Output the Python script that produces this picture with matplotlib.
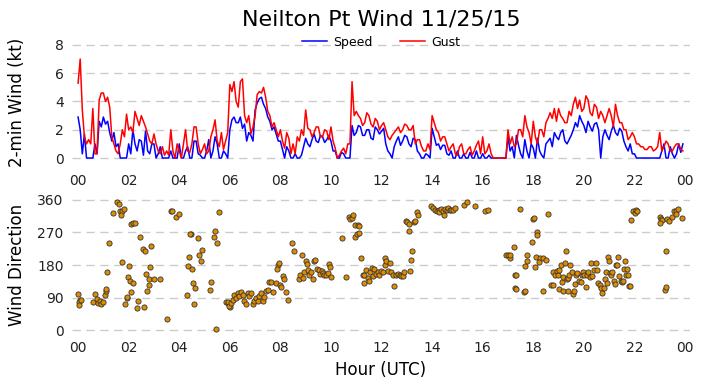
import numpy as np
import matplotlib
matplotlib.use('Agg')
import matplotlib.pyplot as plt

# 5-minute wind speed / gust (kt), 00:00 .. 23:55 UTC, one row per hour
speed = [
    2.9, 2.0, 0.3, 1.7, 0.0, 0.0, 0.0, 0.0, 1.0, 0.3, 2.6, 2.2,
    2.9, 2.4, 2.6, 1.8, 1.2, 1.8, 0.8, 1.0, 0.0, 0.0, 0.0, 0.0,
    1.0, 0.3, 2.0, 1.0, 0.5, 1.3, 1.2, 0.2, 1.9, 0.5, 0.3, 1.0,
    1.0, 0.0, 0.3, 0.8, 0.0, 0.0, 0.0, 0.0, 0.5, 0.0, 0.0, 0.0,
    1.0, 0.0, 0.0, 0.5, 0.8, 0.0, 0.0, 1.2, 1.2, 0.3, 0.2, 0.0,
    0.0, 0.5, 1.3, 0.0, 0.5, 1.5, 1.0, 0.0, 0.0, 0.5, 0.3, 0.0,
    2.0, 2.7, 2.9, 2.5, 2.5, 2.9, 2.1, 2.4, 1.2, 1.8, 1.6, 1.2,
    3.4, 3.9, 4.2, 4.3, 3.8, 3.5, 2.9, 2.6, 2.0, 2.2, 1.7, 1.2,
    1.2, 0.6, 0.0, 0.8, 0.5, 0.0, 0.0, 0.3, 0.0, 0.0, 0.2, 0.8,
    1.4, 1.0, 0.8, 1.3, 1.7, 1.2, 1.1, 1.6, 1.5, 1.1, 1.3, 1.6,
    1.2, 0.5, 0.5, 0.0, 0.0, 0.4, 0.3, 0.0, 0.0, 0.0, 2.3, 1.6,
    1.8, 2.3, 2.2, 1.6, 1.6, 2.0, 2.0, 1.4, 1.3, 2.2, 2.0, 1.7,
    1.9, 2.1, 1.0, 0.5, 0.3, 0.0, 0.8, 1.2, 1.5, 0.9, 1.2, 1.6,
    1.5, 1.0, 0.8, 1.4, 1.3, 0.5, 0.3, 0.0, 0.0, 0.3, 0.2, 0.0,
    2.1, 1.5, 0.9, 1.0, 0.6, 0.9, 0.9, 0.3, 0.2, 0.5, 0.0, 0.0,
    0.5, 0.0, 0.0, 0.3, 0.0, 0.0, 0.4, 0.0, 0.0, 0.5, 0.0, 0.0,
    0.3, 0.0, 0.0, 0.2, 0.0, 0.0, 0.0, 0.0, 0.0, 0.0, 0.0, 0.0,
    1.5, 0.5, 0.8, 0.0, 1.6, 0.9, 0.3, 0.0, 1.3, 0.5, 0.0, 1.0,
    0.7, 0.0, 1.4, 0.5, 0.2, 0.0, 1.0, 1.2, 1.4, 0.8, 1.8, 1.5,
    1.3, 1.8, 2.0, 1.2, 1.0, 1.3, 1.6, 2.0, 2.5, 2.2, 3.0, 2.6,
    2.3, 1.8, 2.6, 2.2, 1.9, 2.4, 2.5, 2.0, 0.0, 1.5, 2.0, 1.6,
    1.3, 1.9, 2.3, 1.8, 1.6, 2.1, 1.9, 1.2, 0.8, 0.5, 1.0, 0.3,
    0.3, 0.0, 0.0, 0.0, 0.0, 0.0, 0.0, 0.0, 0.0, 0.0, 0.0, 0.0,
    0.0, 0.5, 1.0, 0.0, 0.0, 0.8, 0.3, 0.0, 0.3, 1.0, 0.4, 1.0,
]
gust = [
    5.3, 7.0, 3.4, 1.5, 1.0, 1.3, 1.0, 3.5, 0.3, 0.3, 4.1, 4.6,
    4.6, 4.0, 4.3, 3.6, 1.5, 1.0, 0.5, 0.3, 1.0, 2.0, 1.5, 3.1,
    2.0, 2.2, 1.8, 3.3, 2.8, 2.3, 3.0, 2.6, 2.2, 1.7, 1.2, 1.0,
    1.7, 1.0, 0.5, 0.3, 0.8, 0.2, 0.5, 0.2, 2.0, 0.5, 0.0, 1.0,
    0.5, 0.0, 1.0, 2.0, 0.5, 0.4, 1.0, 2.2, 2.2, 1.0, 0.3, 0.6,
    1.0, 0.3, 0.5, 1.5, 2.0, 2.7, 1.2, 0.8, 1.8, 0.6, 1.2, 1.8,
    5.2, 4.7, 5.4, 4.0, 3.6, 5.4, 5.6, 3.0, 2.5, 3.0, 1.7, 2.2,
    3.0, 4.5, 4.7, 4.6, 5.0, 4.3, 3.3, 3.0, 2.2, 2.5, 2.0, 1.5,
    2.0, 1.2, 0.7, 1.8, 1.4, 0.3, 1.0, 0.3, 1.5, 1.2, 2.0, 1.6,
    3.4, 2.1, 2.0, 1.5, 1.8, 2.2, 2.2, 1.5, 1.5, 2.0, 1.9, 1.3,
    2.2, 1.2, 0.7, 0.0, 0.2, 0.5, 0.7, 0.3, 1.0, 1.0, 5.4, 3.0,
    3.3, 3.0, 2.8, 2.3, 2.5, 3.2, 3.0, 2.4, 2.2, 2.8, 2.6, 2.0,
    2.3, 2.5, 2.0, 1.5, 1.3, 1.6, 1.8, 2.0, 2.2, 1.8, 2.0, 2.4,
    2.3, 2.0, 2.0, 2.3, 1.0, 1.3, 1.3, 0.8, 0.5, 0.5, 1.0, 0.6,
    3.0, 2.5, 2.0, 1.8, 1.2, 1.5, 1.5, 1.0, 0.5, 0.8, 1.0, 0.3,
    0.2, 0.8, 1.0, 0.3, 0.3, 0.6, 0.8, 0.2, 0.5, 0.9, 1.2, 0.3,
    1.5, 0.3, 0.5, 1.0, 0.3, 0.0, 0.0, 0.0, 0.0, 0.0, 0.0, 0.0,
    2.0, 1.0, 1.5, 0.8, 1.0, 2.0, 2.0, 1.5, 3.0, 2.2, 1.8, 1.0,
    2.6, 1.5, 1.0, 2.0, 2.0, 1.5, 2.5, 2.8, 3.2, 2.8, 3.5, 2.6,
    3.5, 3.0, 2.8, 2.5, 2.5, 3.3, 3.0, 3.8, 4.3, 3.5, 4.1, 3.3,
    3.5, 4.4, 4.1, 3.2, 3.0, 3.8, 3.6, 2.8, 3.3, 3.0, 2.5, 3.0,
    3.5, 3.0, 2.2, 3.8, 3.0, 2.5, 2.5, 2.0, 2.0, 1.3, 1.5, 1.8,
    1.5, 1.0, 1.0, 0.8, 0.8, 0.6, 0.6, 0.8, 0.8, 0.5, 0.6, 0.8,
    1.8, 0.5, 0.8, 1.2, 1.0, 0.5, 0.5, 0.8, 1.0, 1.0, 0.6, 0.5,
]
wind_hours = np.arange(len(speed)) / 12.0

# wind direction observations (hour UTC, degrees)
dir_hours = [
    0.0, 0.08, 0.04, 0.03, 0.13, 0.57, 0.66, 0.74, 0.79, 0.87, 0.92, 1.0, 1.05, 1.09, 1.12,
    1.13, 1.23, 1.38, 1.53, 1.62, 1.66, 1.75, 1.82, 1.69, 1.74, 2.02, 1.98, 2.06, 2.16, 1.92,
    1.95, 1.84, 2.11, 2.32, 2.37, 2.61, 2.11, 2.19, 2.24, 2.45, 2.58, 2.64, 2.87, 2.85, 2.67,
    2.79, 2.79, 2.71, 3.0, 3.24, 3.5, 3.66, 3.73, 3.87, 3.99, 4.30, 4.35, 4.51, 4.39, 4.45,
    4.43, 4.55, 4.61, 4.58, 4.74, 4.78, 4.85, 4.91, 5.22, 5.24, 5.37, 5.41, 5.48, 5.44, 5.57,
    5.84, 5.93, 6.0, 5.92, 5.98, 6.05, 6.11, 6.18, 6.24, 6.31, 6.38, 6.44, 6.51, 6.57, 6.64,
    6.71, 6.77, 6.84, 6.90, 6.97, 7.03, 7.10, 7.17, 7.23, 7.30, 7.37, 7.43, 7.50, 7.54, 7.63,
    7.69, 7.82, 7.89, 7.87, 7.93, 7.98, 8.02, 8.12, 8.15, 8.22, 8.29, 8.46, 8.54, 8.72, 8.77,
    8.85, 8.90, 8.94, 9.01, 9.04, 9.11, 9.14, 9.22, 9.28, 9.33, 9.38, 9.43, 9.51, 9.57, 9.63,
    9.67, 9.74, 9.80, 9.87, 9.91, 9.96, 10.0, 10.43, 10.59, 10.7, 10.75, 10.83, 10.88, 10.96, 11.05,
    11.12, 10.96, 11.03, 11.09, 11.17, 11.25, 11.32, 11.29, 11.38, 11.45, 11.51, 11.56, 11.62, 11.67, 11.71,
    11.78, 11.84, 11.91, 11.97, 12.05, 12.12, 12.15, 12.19, 12.25, 12.32, 12.38, 12.45, 12.5, 12.58, 12.65,
    12.71, 12.78, 12.84, 12.88, 12.98, 13.02, 13.07, 13.07, 13.11, 13.15, 13.20, 13.28, 13.33, 13.40, 13.46,
    13.94, 14.03, 14.12, 14.20, 14.26, 14.29, 14.36, 14.43, 14.47, 14.52, 14.57, 14.63, 14.69, 14.76, 14.82,
    14.89, 15.26, 15.36, 15.68, 16.08, 16.21, 16.93, 17.0, 17.06, 17.06, 17.23, 17.26, 17.33, 17.29, 17.31,
    17.49, 17.63, 17.68, 17.69, 17.76, 17.75, 17.94, 17.98, 18.02, 18.13, 18.13, 18.1, 18.26, 18.39, 18.50,
    18.23, 18.05, 18.37, 18.58, 18.72, 18.79, 18.79, 18.85, 18.92, 18.98, 19.02, 19.08, 19.13, 19.18, 19.25,
    19.29, 19.32, 19.38, 19.42, 19.47, 19.53, 19.58, 19.65, 19.61, 19.03, 19.18, 19.38, 19.68, 19.74, 19.82,
    19.87, 19.91, 19.95, 20.01, 20.08, 20.13, 20.18, 20.24, 20.28, 20.34, 20.40, 20.48, 20.50, 20.57, 20.63,
    20.69, 20.70, 20.79, 20.82, 20.89, 20.92, 20.96, 20.99, 21.03, 21.09, 21.13, 21.19, 21.23, 21.27, 21.32,
    21.35, 21.40, 21.45, 21.49, 21.55, 21.59, 21.62, 21.66, 21.71, 21.75, 21.79, 21.82, 21.88, 21.95, 22.01,
    22.08, 22.12, 23.0, 23.04, 23.10, 23.02, 23.19, 23.26, 23.26, 23.30, 23.37, 23.5, 23.56, 23.66, 23.74,
    23.90, 23.63,
]
dir_deg = [
    100, 84, 78, 69, 84, 77, 101, 87, 75, 80, 73, 78, 98, 107, 114,
    162, 242, 325, 353, 350, 330, 330, 334, 319, 187, 178, 146, 135, 129, 89,
    92, 73, 105, 60, 80, 63, 294, 297, 297, 258, 224, 218, 233, 174, 156,
    140, 126, 109, 142, 142, 32, 330, 330, 313, 321, 96, 178, 170, 203, 266,
    266, 131, 117, 73, 255, 208, 192, 222, 112, 134, 258, 274, 241, 2, 327,
    77, 75, 64, 77, 66, 75, 84, 98, 89, 103, 94, 106, 98, 80, 71,
    103, 94, 103, 71, 80, 89, 80, 94, 103, 80, 91, 107, 112, 133, 133,
    105, 129, 180, 170, 185, 126, 118, 149, 142, 105, 84, 240, 219, 142, 153,
    207, 145, 161, 192, 183, 167, 153, 161, 141, 190, 193, 170, 167, 155, 164,
    159, 153, 151, 158, 184, 174, 146, 256, 146, 313, 308, 311, 317, 291, 291,
    288, 257, 265, 268, 198, 151, 153, 131, 165, 144, 137, 162, 173, 149, 169,
    156, 161, 151, 164, 161, 179, 199, 192, 164, 185, 161, 151, 121, 151, 156,
    151, 149, 149, 162, 303, 298, 294, 275, 164, 193, 220, 300, 303, 326, 319,
    342, 337, 332, 328, 332, 326, 334, 329, 319, 334, 332, 339, 332, 332, 332,
    339, 346, 355, 343, 330, 332, 208, 208, 199, 208, 231, 151, 151, 117, 114,
    335, 105, 107, 176, 207, 190, 244, 308, 311, 270, 262, 201, 199, 199, 193,
    187, 174, 109, 321, 124, 124, 162, 153, 164, 153, 167, 179, 133, 146, 185,
    219, 142, 144, 151, 179, 162, 101, 127, 107, 115, 107, 107, 153, 158, 137,
    133, 153, 161, 153, 118, 151, 161, 146, 185, 149, 167, 185, 167, 130, 124,
    117, 103, 117, 142, 161, 130, 201, 190, 158, 153, 161, 137, 127, 179, 179,
    201, 149, 137, 133, 135, 170, 192, 153, 170, 153, 121, 121, 305, 328, 323,
    332, 328, 314, 308, 305, 297, 110, 120, 219, 308, 302, 314, 328, 328, 335,
    311, 321,
]

hour_ticks = list(range(0, 25, 2))
hour_labels = ['%02d' % (h % 24) for h in hour_ticks]

fig = plt.figure(figsize=(7.02, 3.88), dpi=100)
ax1 = fig.add_axes([0.1026, 0.5825, 0.8804, 0.309])
ax2 = fig.add_axes([0.1026, 0.139, 0.8804, 0.356])

for ax in (ax1, ax2):
    for s in ax.spines.values():
        s.set_visible(False)
    ax.set_axisbelow(True)
    ax.yaxis.grid(True, linestyle=(0, (6, 4)), color='#cccccc', linewidth=1)
    ax.tick_params(length=0, labelsize=10, colors='#222222')
    ax.tick_params(axis='y', pad=6)
    ax.set_xlim(-0.24, 24.2)
    ax.set_xticks(hour_ticks)
    ax.set_xticklabels(hour_labels)
    ax.yaxis.set_label_coords(-0.074, 0.5)
ax1.tick_params(axis='x', pad=9)
ax2.tick_params(axis='x', pad=5)

ax1.plot(wind_hours, speed, color='blue', lw=1.1, label='Speed')
ax1.plot(wind_hours, gust, color='red', lw=1.1, label='Gust')
ax1.set_ylim(-0.28, 8.2)
ax1.set_yticks([0, 2, 4, 6, 8])
ax1.set_ylabel('2-min Wind (kt)', fontsize=12)
ax1.legend(loc='center', bbox_to_anchor=(0.5, 1.0), ncol=2, frameon=False,
           fontsize=9, handlelength=2.0, handletextpad=0.5, columnspacing=2.2)
ax1.set_title('Neilton Pt Wind 11/25/15', fontsize=16, pad=12)

ax2.scatter(dir_hours, dir_deg, s=14, color='#e08c00', edgecolor='#333333', linewidth=0.6, zorder=3)
ax2.set_ylim(-11, 371)
ax2.set_yticks([0, 90, 180, 270, 360])
ax2.set_ylabel('Wind Direction', fontsize=12)
ax2.set_xlabel('Hour (UTC)', fontsize=12, labelpad=4)

fig.savefig('out.png', dpi=100)
